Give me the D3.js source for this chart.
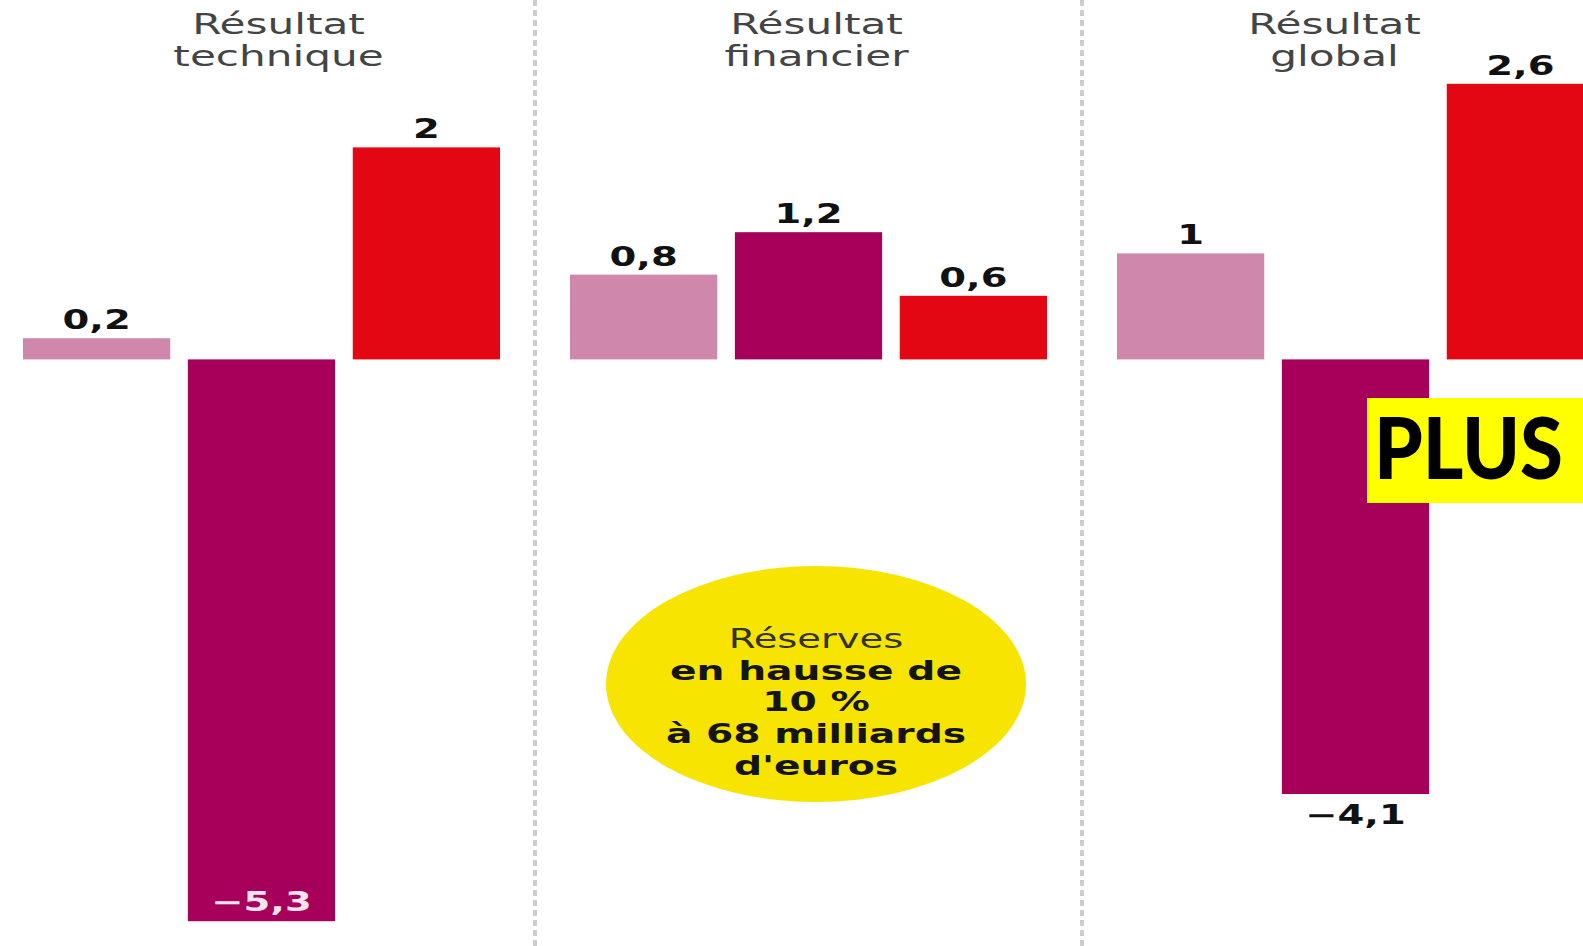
<!DOCTYPE html>
<html>
<head>
<meta charset="utf-8">
<script src="https://cdn.jsdelivr.net/npm/d3@7"></script>
<style>
  body { margin: 0; background: #fff; }
  svg { display: block; }
</style>
</head>
<body>
<div id="container"></div>
<script>
// Résultats (milliards d'euros) - three panels, three bars each

//_____ DATA _____
const panelKeys = [ 'technique', 'financier', 'global' ];
const panelTitles = [ [ 'Résultat', 'technique' ], [ 'Résultat', 'financier' ], [ 'Résultat', 'global' ] ];
const seriesKeys = [ 's1', 's2', 's3' ];
const seriesColors = [ '#cf88ab', '#a6005b', '#e30613' ];

const valuesTechnique = [ 0.2, -5.3, 2 ];
const valuesFinancier = [ 0.8, 1.2, 0.6 ];
const valuesGlobal = [ 1, -4.1, 2.6 ];

const calloutLines = [ 'Réserves', 'en hausse de', '10 %', 'à 68 milliards', "d'euros" ];
const stampText = 'PLUS';


//_____ LAYOUT _____
const width = 1583;
const height = 946;
const textStretch = 1.48;           //--- the source picture is stretched horizontally
const titleDx = [ 17, 8, -21 ];     //--- title offset from panel centre
const fontFamily = '"DejaVu Sans", sans-serif';

const svg = d3.select( '#container' )
  .append( 'svg' )
  .attr( 'width', width )
  .attr( 'height', height );

//>>> Data table built from the arrays:
const allValues = [ valuesTechnique, valuesFinancier, valuesGlobal ];
const bars = [];
panelKeys.forEach( ( p, i ) => {
  seriesKeys.forEach( ( s, j ) => {
    bars.push( { panel: p, series: s, value: allValues[ i ][ j ], color: seriesColors[ j ] } );
  } );
} );


//_____ SCALES _____
const x0 = d3.scaleBand()
  .domain( panelKeys )
  .range( [ 23, 23 + 3 * 547 ] );

const x1 = d3.scaleBand()
  .domain( seriesKeys )
  .range( [ 0, 477 ] )
  .paddingInner( 0.107 );

const y = d3.scaleLinear()
  .domain( [ -5.3, 2.6 ] )
  .range( [ 921.2, 83.8 ] );

const fmt = d3.formatLocale( { decimal: ',', thousands: ' ', grouping: [ 3 ], currency: [ '', '€' ], minus: '\u2212' } )
  .format( '~g' );

//>>> helper: horizontally stretched text
function stretchedText ( parent, x, yPos, str ) {
  return parent.append( 'text' )
    .attr( 'transform', `translate(${x},${yPos}) scale(${textStretch},1)` )
    .attr( 'text-anchor', 'middle' )
    .style( 'font-family', fontFamily )
    .text( str );
}


//_____ DIVIDERS _____
const panelEnd = p => x0( p ) + x1.range()[ 1 ];
for ( let i = 0; i < panelKeys.length - 1; i++ ) {
  const xd = ( panelEnd( panelKeys[ i ] ) + x0( panelKeys[ i + 1 ] ) ) / 2;
  svg.append( 'line' )
    .attr( 'x1', xd ).attr( 'x2', xd )
    .attr( 'y1', 0 ).attr( 'y2', height )
    .attr( 'stroke', '#cdcdcd' )
    .attr( 'stroke-width', 4 )
    .attr( 'stroke-dasharray', '6,4' );
}


//_____ BARS _____
svg.selectAll( '.bar' )
  .data( bars )
  .enter().append( 'rect' )
  .attr( 'class', 'bar' )
  .attr( 'x', d => x0( d.panel ) + x1( d.series ) )
  .attr( 'y', d => y( Math.max( 0, d.value ) ) )
  .attr( 'width', x1.bandwidth() )
  .attr( 'height', d => Math.abs( y( d.value ) - y( 0 ) ) )
  .attr( 'fill', d => d.color );


//_____ VALUE LABELS _____
bars.forEach( d => {
  const cx = x0( d.panel ) + x1( d.series ) + x1.bandwidth() / 2;
  let ly, fill = '#111';
  if ( d.value >= 0 ) {
    ly = y( d.value ) - 9;
  } else if ( y( d.value ) + 30 < height - 10 ) {
    ly = y( d.value ) + 30;
  } else {
    ly = y( d.value ) - 10;   //--- no room below: put it inside the bar
    fill = '#f6e3ee';
  }
  stretchedText( svg, cx, ly, fmt( d.value ) )
    .style( 'font-size', '26px' )
    .style( 'font-weight', 'bold' )
    .style( 'fill', fill );
} );


//_____ PANEL TITLES _____
panelKeys.forEach( ( p, i ) => {
  const cx = x0( p ) + x1( seriesKeys[ 1 ] ) + x1.bandwidth() / 2 + titleDx[ i ];
  panelTitles[ i ].forEach( ( line, k ) => {
    stretchedText( svg, cx, 34 + k * 32, line )
      .style( 'font-size', '28.5px' )
      .style( 'fill', '#444' );
  } );
} );


//_____ CALLOUT (yellow ellipse) _____
const callout = svg.append( 'g' ).attr( 'transform', 'translate(816,684)' );
callout.append( 'ellipse' )
  .attr( 'rx', 210 )
  .attr( 'ry', 118 )
  .attr( 'fill', '#f7e400' );
calloutLines.forEach( ( line, k ) => {
  stretchedText( callout, 0, -36 + k * 31.7, line )
    .style( 'font-size', k === 0 ? '26px' : '26.5px' )
    .style( 'font-weight', k === 0 ? 'normal' : 'bold' )
    .style( 'fill', k === 0 ? '#333' : '#151515' );
} );


//_____ STAMP _____
svg.append( 'rect' )
  .attr( 'x', 1367 )
  .attr( 'y', 398 )
  .attr( 'width', width - 1367 )
  .attr( 'height', 105 )
  .attr( 'fill', '#ffff00' );

svg.append( 'text' )
  .attr( 'x', 1374 )
  .attr( 'y', 479 )
  .attr( 'textLength', 189 )
  .attr( 'lengthAdjust', 'spacingAndGlyphs' )
  .style( 'font-family', 'Lato, sans-serif' )
  .style( 'font-weight', 900 )
  .style( 'font-size', '86px' )
  .style( 'fill', '#000' )
  .text( stampText );
</script>
</body>
</html>
